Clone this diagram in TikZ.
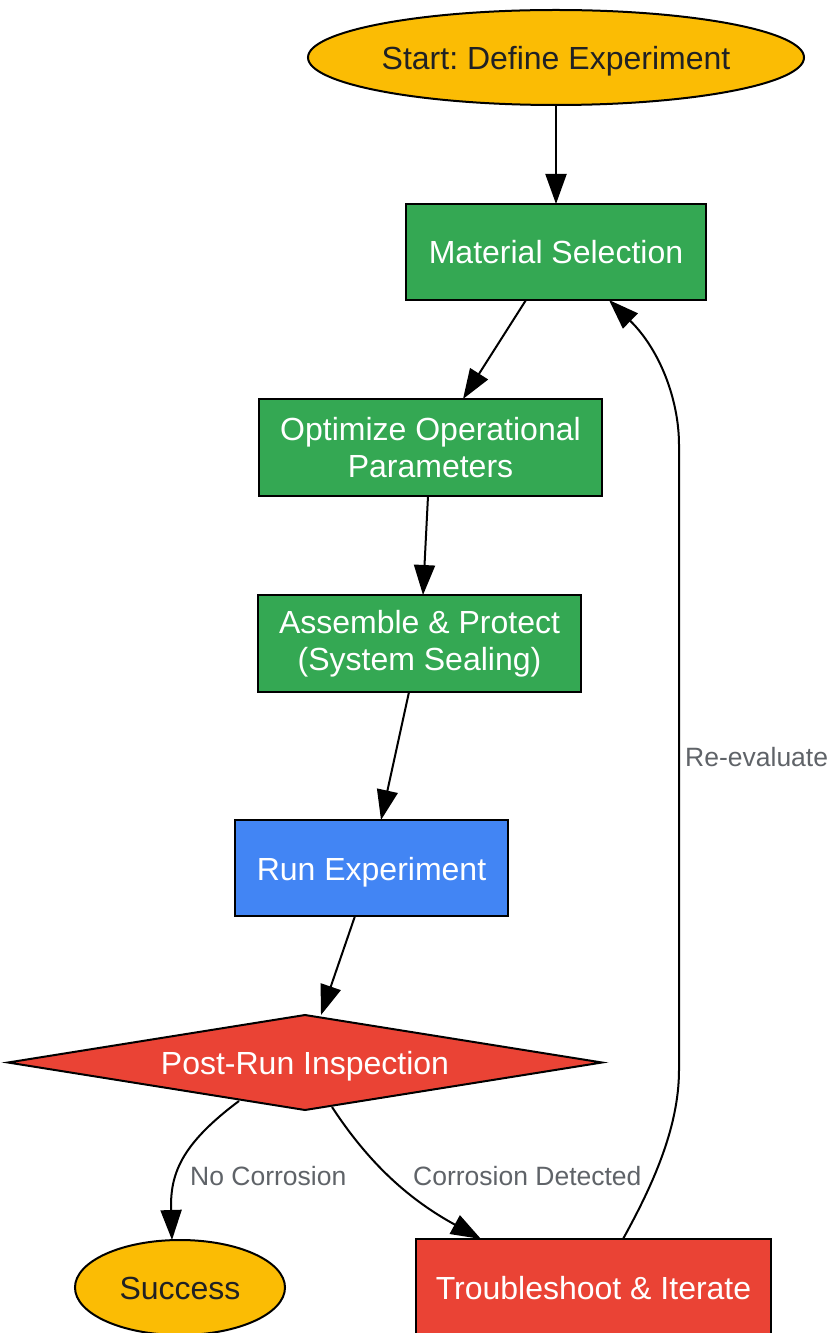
\documentclass[tikz,border=0pt]{standalone}
\usepackage{fontspec}
\setmainfont{Liberation Sans}
\frenchspacing
\usetikzlibrary{shapes.geometric,arrows.meta}
\definecolor{gyellow}{HTML}{FBBC04}
\definecolor{ggreen}{HTML}{34A853}
\definecolor{gblue}{HTML}{4285F4}
\definecolor{gred}{HTML}{EA4335}
\definecolor{gdark}{HTML}{202124}
\definecolor{ggray}{HTML}{5F6368}
\tikzset{
  base/.style={draw=black,line width=2bp,inner sep=0pt,align=center,font=\fontsize{32bp}{37.5bp}\selectfont},
  oneline/.style={text height=24bp,text depth=0bp},
  oval/.style={base,oneline,ellipse,fill=gyellow,text=gdark},
  greenbox/.style={base,rectangle,fill=ggreen,text=white},
  bluebox/.style={base,oneline,rectangle,fill=gblue,text=white},
  redbox/.style={base,oneline,rectangle,fill=gred,text=white},
  conn/.style={line width=2bp,-{Triangle[length=30bp,width=21bp]}},
  lbl/.style={text=ggray,font=\fontsize{26.5bp}{30bp}\selectfont,inner sep=0pt},
}
\begin{document}
\begin{tikzpicture}[x=1bp,y=-1bp]
\useasboundingbox (0,0) rectangle (830,1333);
\node[oval,minimum width=496bp,minimum height=95bp] (start) at (556,57.5) {Start: Define Experiment};
\node[greenbox,oneline,minimum width=300bp,minimum height=96bp] (mat) at (556,252) {Material Selection};
\node[greenbox,minimum width=343bp,minimum height=97bp] (opt) at (430.5,447.5) {Optimize Operational\\Parameters};
\node[greenbox,minimum width=323bp,minimum height=97bp] (asm) at (419.5,643.5) {Assemble \& Protect\\(System Sealing)};
\node[bluebox,minimum width=273bp,minimum height=96bp] (run) at (371.5,868) {Run Experiment};
\path[draw=black,line width=2bp,fill=gred] (8,1062.5) -- (305,1015) -- (602,1062.5) -- (305,1110) -- cycle;
\node[text=white,font=\fontsize{32bp}{38bp}\selectfont,oneline,inner sep=0pt,minimum width=594bp,minimum height=95bp] (insp) at (305,1062.5) {Post-Run Inspection};
\node[oval,minimum width=210bp,minimum height=95bp] (succ) at (180,1287.5) {Success};
\node[redbox,minimum width=355bp,minimum height=96bp] (trb) at (593.5,1287) {Troubleshoot \& Iterate};
\coordinate (s1) at (556,105);
\coordinate (m1) at (556,204);
\draw[conn] (s1) -- (m1);
\coordinate (m2) at (526,300);
\coordinate (o1) at (463,399);
\draw[conn] (m2) -- (o1);
\coordinate (o2) at (428,496);
\coordinate (a1) at (423,595);
\draw[conn] (o2) -- (a1);
\coordinate (a2) at (409,692);
\coordinate (r1) at (381,820);
\draw[conn] (a2) -- (r1);
\coordinate (r2) at (355,916);
\coordinate (i1) at (321,1015);
\draw[conn] (r2) -- (i1);
\coordinate (i2) at (239,1101);
\coordinate (sc) at (172,1240);
\draw[conn] (i2) .. controls (180,1145) and (170,1175) .. (sc);
\node[lbl,anchor=west] (l1) at (190,1176) {No Corrosion};
\coordinate (i3) at (332,1107);
\coordinate (tb) at (481,1239);
\draw[conn] (i3) .. controls (370,1165) and (410,1200) .. (tb);
\node[lbl,anchor=west] (l2) at (413,1176) {Corrosion Detected};
\coordinate (t1) at (623,1239);
\coordinate (m3) at (609,300);
\draw[conn] (t1) .. controls (650,1190) and (679,1130) .. (679,1070) -- (679,445) .. controls (679,400) and (660,350) .. (m3);
\node[lbl,anchor=west] (l3) at (685,757) {Re-evaluate};
\end{tikzpicture}
\end{document}
